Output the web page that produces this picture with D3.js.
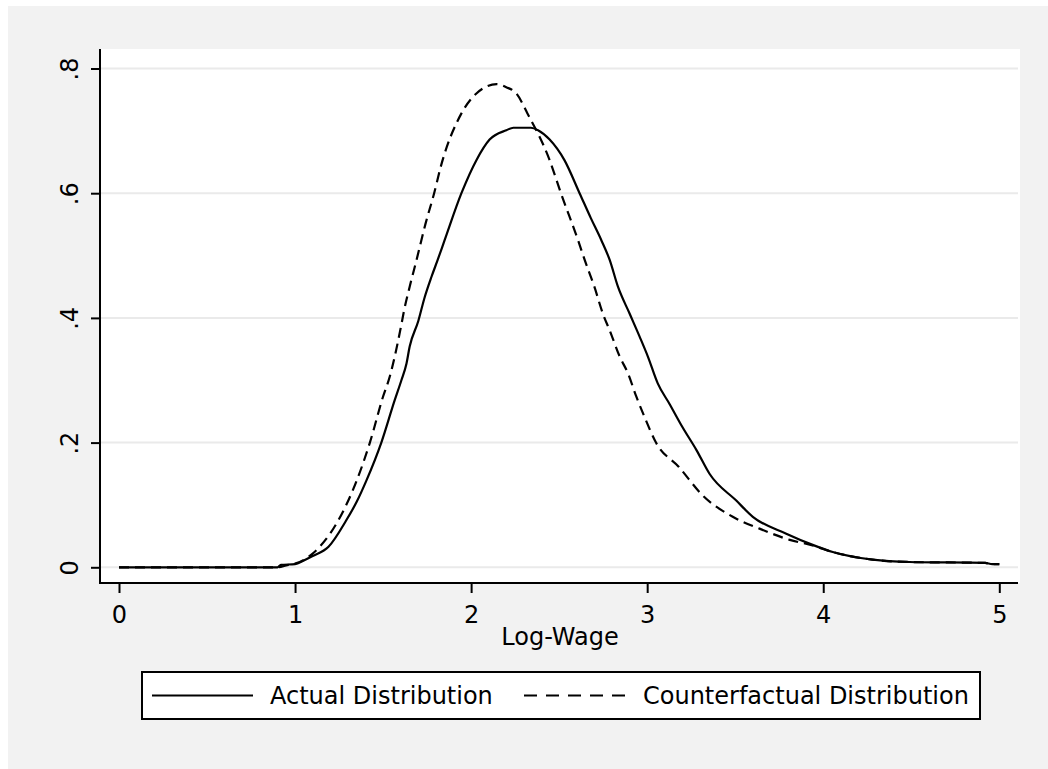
<!DOCTYPE html>
<html>
<head>
<meta charset="utf-8">
<script src="https://cdn.jsdelivr.net/npm/d3@7"></script>
<style>
  html, body { margin: 0; padding: 0; background: #ffffff; }
  svg { display: block; }
  text { font-family: "DejaVu Sans", "Liberation Sans", sans-serif; fill: #000; }
</style>
</head>
<body>
<svg id="chart" width="1048" height="769"></svg>
<script>
// ---- data ----
const xTicks = [0, 1, 2, 3, 4, 5];
const xTickLabels = ["0", "1", "2", "3", "4", "5"];
const yTicks = [0, 0.2, 0.4, 0.6, 0.8];
const yTickLabels = ["0", ".2", ".4", ".6", ".8"];
const xTitle = "Log-Wage";
const seriesNames = ["Actual Distribution", "Counterfactual Distribution"];

const actualX = [0.00, 0.90, 0.92, 1.00, 1.05, 1.10, 1.19, 1.29, 1.35, 1.405, 1.49, 1.566, 1.604, 1.633, 1.651, 1.70, 1.735, 1.775, 1.81, 1.85, 1.945, 2.03, 2.105, 2.20, 2.24, 2.34, 2.38, 2.446, 2.53, 2.616, 2.68, 2.739, 2.787, 2.834, 2.90, 2.957, 3.004, 3.06, 3.127, 3.20, 3.28, 3.354, 3.506, 3.60, 3.79, 3.94, 4.054, 4.28, 4.49, 4.92, 4.96, 5.00];
const actualY = [0, 0, 0.004, 0.005, 0.011, 0.018, 0.033, 0.075, 0.105, 0.139, 0.200, 0.268, 0.300, 0.327, 0.354, 0.395, 0.432, 0.466, 0.493, 0.525, 0.600, 0.653, 0.686, 0.701, 0.705, 0.705, 0.701, 0.686, 0.653, 0.600, 0.560, 0.525, 0.493, 0.450, 0.407, 0.370, 0.338, 0.295, 0.262, 0.225, 0.188, 0.150, 0.107, 0.081, 0.054, 0.036, 0.0245, 0.0123, 0.0085, 0.007, 0.005, 0.005];

const counterX = [0.00, 0.90, 0.95, 1.00, 1.05, 1.10, 1.14, 1.245, 1.35, 1.425, 1.50, 1.538, 1.566, 1.605, 1.62, 1.651, 1.69, 1.74, 1.79, 1.83, 1.945, 2.03, 2.145, 2.20, 2.257, 2.32, 2.446, 2.51, 2.607, 2.645, 2.70, 2.748, 2.787, 2.844, 2.891, 2.938, 2.985, 3.05, 3.18, 3.316, 3.486, 3.638, 3.81, 3.94, 4.054, 4.28, 4.49, 4.92, 4.96, 5.00];
const counterY = [0, 0, 0.003, 0.006, 0.012, 0.022, 0.033, 0.075, 0.139, 0.200, 0.274, 0.306, 0.338, 0.391, 0.413, 0.450, 0.493, 0.550, 0.600, 0.645, 0.728, 0.760, 0.775, 0.770, 0.760, 0.728, 0.653, 0.600, 0.525, 0.493, 0.450, 0.407, 0.380, 0.338, 0.311, 0.274, 0.241, 0.200, 0.161, 0.115, 0.081, 0.062, 0.044, 0.035, 0.0245, 0.0123, 0.0085, 0.007, 0.005, 0.005];

// ---- layout ----
const W = 1048, H = 769;
const plot = { left: 100, right: 1020, top: 49, bottom: 583 };
const svg = d3.select("#chart");

svg.append("rect").attr("x", 0).attr("y", 0).attr("width", W).attr("height", H).attr("fill", "#ffffff");
svg.append("rect").attr("x", 8).attr("y", 6).attr("width", W - 8).attr("height", H - 6).attr("fill", "#f2f2f2");
svg.append("rect").attr("x", plot.left).attr("y", plot.top)
  .attr("width", plot.right - plot.left).attr("height", plot.bottom - plot.top).attr("fill", "#ffffff");

const x = d3.scaleLinear().domain([0, 5]).range([119, 999.3]);
const y = d3.scaleLinear().domain([0, 0.8]).range([567.3, 68.5]);

// gridlines
svg.append("g").selectAll("line").data(yTicks).join("line")
  .attr("x1", plot.left + 1).attr("x2", 1018)
  .attr("y1", d => y(d)).attr("y2", d => y(d))
  .attr("stroke", "#eaeaea").attr("stroke-width", 2);

// y axis
const yAxis = d3.axisLeft(y).tickValues(yTicks)
  .tickFormat((d, i) => yTickLabels[i]).tickSize(9).tickSizeOuter(0).tickPadding(0);
const gy = svg.append("g").attr("transform", `translate(${plot.left},0)`).call(yAxis);
gy.select(".domain").attr("d", `M0,${plot.top}V${plot.bottom + 1}`).attr("stroke", "#000").attr("stroke-width", 2);
gy.selectAll(".tick line").attr("stroke", "#000").attr("stroke-width", 2);
gy.selectAll(".tick text")
  .attr("x", null).attr("dy", null)
  .attr("transform", "translate(-22,0) rotate(-90)")
  .attr("text-anchor", "middle")
  .attr("font-size", 24)
  .attr("font-family", "DejaVu Sans")
  .attr("fill", "#000");

// x axis
const xAxis = d3.axisBottom(x).tickValues(xTicks)
  .tickFormat((d, i) => xTickLabels[i]).tickSize(10).tickSizeOuter(0).tickPadding(0);
const gx = svg.append("g").attr("transform", `translate(0,${plot.bottom})`).call(xAxis);
gx.select(".domain").attr("d", `M${plot.left - 1},0H1018`).attr("stroke", "#000").attr("stroke-width", 2);
gx.selectAll(".tick line").attr("stroke", "#000").attr("stroke-width", 2);
gx.selectAll(".tick text")
  .attr("y", 40).attr("dy", null)
  .attr("text-anchor", "middle")
  .attr("font-size", 24)
  .attr("font-family", "DejaVu Sans")
  .attr("fill", "#000");

svg.append("text").attr("x", (plot.left + plot.right) / 2).attr("y", 645)
  .attr("text-anchor", "middle").attr("font-size", 24).text(xTitle);

// lines
const line = d3.line().x(d => x(d[0])).y(d => y(d[1])).curve(d3.curveMonotoneX);
const actual = actualX.map((v, i) => [v, actualY[i]]);
const counter = counterX.map((v, i) => [v, counterY[i]]);

svg.append("path").datum(counter).attr("d", line)
  .attr("fill", "none").attr("stroke", "#000").attr("stroke-width", 2.2)
  .attr("stroke-dasharray", "10,6");
svg.append("path").datum(actual).attr("d", line)
  .attr("fill", "none").attr("stroke", "#000").attr("stroke-width", 2.2)
  .attr("stroke-linejoin", "round");

// legend
const leg = svg.append("g");
leg.append("rect").attr("x", 142).attr("y", 672).attr("width", 838).attr("height", 47)
  .attr("fill", "#ffffff").attr("stroke", "#000").attr("stroke-width", 2);
const legY = 695.5;
leg.append("line").attr("x1", 152).attr("x2", 253).attr("y1", legY).attr("y2", legY)
  .attr("stroke", "#000").attr("stroke-width", 2.2);
leg.append("text").attr("x", 270).attr("y", 704).attr("font-size", 24).text(seriesNames[0]);
leg.append("line").attr("x1", 524).attr("x2", 627).attr("y1", legY).attr("y2", legY)
  .attr("stroke", "#000").attr("stroke-width", 2.2).attr("stroke-dasharray", "13,9");
leg.append("text").attr("x", 643).attr("y", 704).attr("font-size", 24).text(seriesNames[1]);
</script>
</body>
</html>
